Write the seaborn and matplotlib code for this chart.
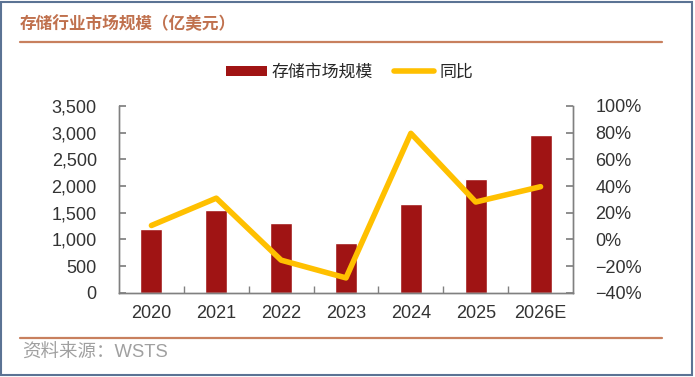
import matplotlib

matplotlib.use("Agg")
import matplotlib.pyplot as plt
import pandas as pd
import seaborn as sns
from matplotlib.lines import Line2D
from matplotlib.patches import Patch, Rectangle
from matplotlib.ticker import FixedLocator, StrMethodFormatter


YEARS = ["2020", "2021", "2022", "2023", "2024", "2025", "2026E"]
MARKET_SIZE = [1190, 1555, 1310, 935, 1668, 2125, 2962]  # 亿美元
YOY_PCT = [10.4, 30.9, -15.6, -28.9, 79.5, 28.0, 39.5]

BAR_COLOR = "#A01414"
LINE_COLOR = "#FFC000"
TITLE_COLOR = "#C0714E"
RULE_COLOR = "#C8805E"

df = pd.DataFrame({"年份": YEARS, "存储市场规模": MARKET_SIZE, "同比": YOY_PCT})

sns.set_theme(style="white")
plt.rcParams["font.family"] = ["Liberation Sans", "Noto Sans CJK SC"]

W, H = 695, 377
fig = plt.figure(figsize=(W / 100, H / 100), dpi=100)
ax = fig.add_axes([119 / W, 1 - 292.7 / H, (573 - 119) / W, (292.7 - 106) / H])

sns.barplot(data=df, x="年份", y="存储市场规模", color=BAR_COLOR, width=0.34,
            saturation=1, ax=ax)

ax2 = ax.twinx()
sns.pointplot(data=df, x="年份", y="同比", color=LINE_COLOR, markers="",
              linestyles="-", linewidth=4, ax=ax2)

ax.set_xlim(-0.5, len(YEARS) - 0.5)
ax.set_ylim(0, 3500)
ax.set_yticks(range(0, 3501, 500))
ax.yaxis.set_major_formatter(StrMethodFormatter("{x:,.0f}"))
ax2.set_ylim(-40, 100)
ax2.set_yticks(range(-40, 101, 20))
ax2.yaxis.set_major_formatter(StrMethodFormatter("{x:.0f}%"))

for a in (ax, ax2):
    a.set_xlabel("")
    a.set_ylabel("")
    a.grid(False)
    for side, sp in a.spines.items():
        sp.set_color("#808080")
        sp.set_linewidth(1)
    a.spines["top"].set_visible(False)

ax.tick_params(axis="y", direction="in", length=5, color="#808080",
               labelsize=13, labelcolor="#333333", pad=16, left=True)
ax2.tick_params(axis="y", direction="in", length=5, color="#808080",
                labelsize=13, labelcolor="#333333", pad=16, right=True)
ax.tick_params(axis="x", which="major", length=0, labelsize=13,
               labelcolor="#333333", pad=9)
ax.xaxis.set_minor_locator(FixedLocator([i + 0.5 for i in range(len(YEARS) - 1)]))
ax.tick_params(axis="x", which="minor", direction="in", length=5,
               color="#808080", bottom=True)
ax2.tick_params(axis="x", bottom=False, labelbottom=False)

handles = [
    Patch(facecolor=BAR_COLOR, edgecolor="none", label="存储市场规模"),
    Line2D([0], [0], color=LINE_COLOR, lw=4, label="同比"),
]
fig.legend(handles=handles, loc="center", bbox_to_anchor=(0.503, 1 - 72 / H),
           ncol=2, frameon=False, fontsize=12.2, handlelength=2.4,
           handleheight=0.55, handletextpad=0.3, columnspacing=1.2)

fig.text(20 / W, 1 - 24 / H, "存储行业市场规模（亿美元）", fontsize=12,
         color=TITLE_COLOR, va="center", ha="left", fontweight="bold")
fig.add_artist(Line2D([20 / W, 662 / W], [1 - 42 / H] * 2, color=RULE_COLOR, lw=1.6))
fig.add_artist(Line2D([20 / W, 662 / W], [1 - 338 / H] * 2, color=RULE_COLOR, lw=1.6))
fig.text(22 / W, 1 - 353 / H, "资料来源：WSTS", fontsize=13.3, color="#A0A0A0",
         va="center", ha="left")
fig.add_artist(Rectangle((1 / W, 2 / H), (692 - 1) / W, (375 - 2) / H,
                         transform=fig.transFigure, fill=False,
                         edgecolor="#5B7394", lw=1.5))

fig.savefig("out.png", dpi=100)
